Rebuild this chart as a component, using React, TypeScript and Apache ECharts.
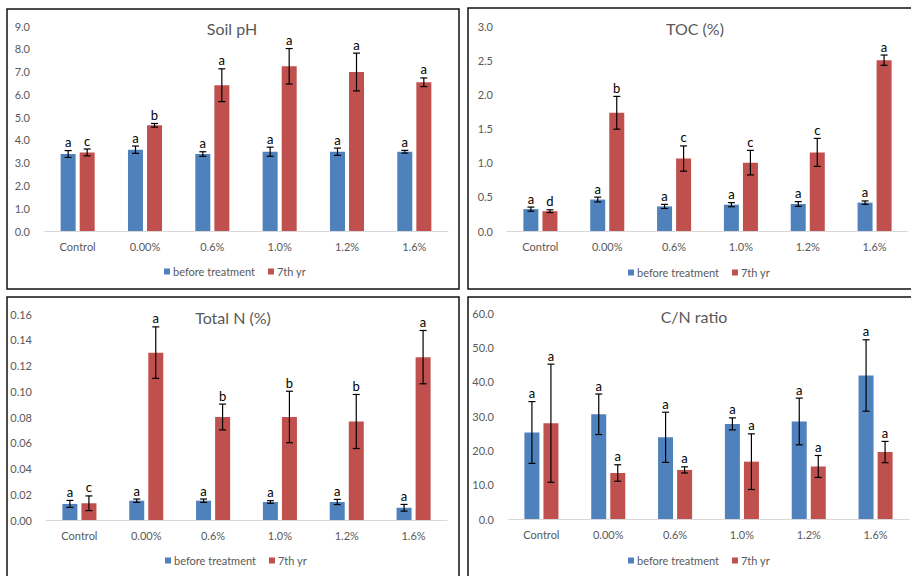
import React, { useEffect, useRef } from "react";
import * as echarts from "echarts";

const categories = ["Control", "0.00%", "0.6%", "1.0%", "1.2%", "1.6%"];
const seriesNames = ["before treatment", "7th yr"];

// Soil pH
const phBefore = [3.38, 3.57, 3.38, 3.48, 3.48, 3.48];
const phBeforeErr = [0.15, 0.16, 0.1, 0.2, 0.16, 0.06];
const phAfter = [3.45, 4.64, 6.4, 7.23, 6.98, 6.53];
const phAfterErr = [0.15, 0.08, 0.72, 0.78, 0.83, 0.19];
const phBeforeLetters = ["a", "a", "a", "a", "a", "a"];
const phAfterLetters = ["c", "b", "a", "a", "a", "a"];

// TOC (%)
const tocBefore = [0.32, 0.46, 0.36, 0.385, 0.395, 0.415];
const tocBeforeErr = [0.03, 0.035, 0.03, 0.03, 0.035, 0.025];
const tocAfter = [0.29, 1.73, 1.06, 1.0, 1.15, 2.5];
const tocAfterErr = [0.02, 0.24, 0.185, 0.18, 0.205, 0.075];
const tocBeforeLetters = ["a", "a", "a", "a", "a", "a"];
const tocAfterLetters = ["d", "b", "c", "c", "c", "a"];

// Total N (%)
const nBefore = [0.0125, 0.015, 0.015, 0.014, 0.014, 0.0095];
const nBeforeErr = [0.0027, 0.0013, 0.0013, 0.001, 0.002, 0.0026];
const nAfter = [0.013, 0.13, 0.08, 0.08, 0.0765, 0.1265];
const nAfterErr = [0.0057, 0.02, 0.01, 0.02, 0.021, 0.0207];
const nBeforeLetters = ["a", "a", "a", "a", "a", "a"];
const nAfterLetters = ["c", "a", "b", "b", "b", "a"];

// C/N ratio
const cnBefore = [25.2, 30.5, 23.8, 27.7, 28.4, 41.8];
const cnBeforeErr = [9.0, 5.9, 7.3, 1.75, 6.8, 10.4];
const cnAfter = [27.9, 13.4, 14.3, 16.7, 15.3, 19.5];
const cnAfterErr = [17.2, 2.4, 0.9, 8.1, 3.2, 3.1];
const cnBeforeLetters = ["a", "a", "a", "a", "a", "a"];
const cnAfterLetters = ["a", "a", "a", "a", "a", "a"];

const BLUE = "#4F81BD";
const RED = "#C0504D";
const FONT = "Lato";
const GRAY = "#595959";

type Panel = {
  title: string;
  titleX: number;
  titleY: number;
  grid: { left: number; top: number; width: number; height: number };
  max: number;
  interval: number;
  decimals: number;
  before: number[];
  beforeErr: number[];
  after: number[];
  afterErr: number[];
  beforeLetters: string[];
  afterLetters: string[];
  legendLeft: number;
  legendTop: number;
  box: { x: number; y: number; w: number; h: number };
};

const panels: Panel[] = [
  {
    title: "Soil pH", titleX: 232, titleY: 28,
    grid: { left: 44, top: 26, width: 404, height: 205 },
    max: 9, interval: 1, decimals: 1,
    before: phBefore, beforeErr: phBeforeErr, after: phAfter, afterErr: phAfterErr,
    beforeLetters: phBeforeLetters, afterLetters: phAfterLetters,
    legendLeft: 164, legendTop: 266,
    box: { x: 7, y: 9, w: 452, h: 280 },
  },
  {
    title: "TOC (%)", titleX: 695, titleY: 28,
    grid: { left: 507, top: 26, width: 401, height: 205 },
    max: 3, interval: 0.5, decimals: 1,
    before: tocBefore, beforeErr: tocBeforeErr, after: tocAfter, afterErr: tocAfterErr,
    beforeLetters: tocBeforeLetters, afterLetters: tocAfterLetters,
    legendLeft: 628, legendTop: 267,
    box: { x: 468, y: 8, w: 460, h: 281 },
  },
  {
    title: "Total N (%)", titleX: 233, titleY: 317,
    grid: { left: 46, top: 314, width: 401, height: 206 },
    max: 0.16, interval: 0.02, decimals: 2,
    before: nBefore, beforeErr: nBeforeErr, after: nAfter, afterErr: nAfterErr,
    beforeLetters: nBeforeLetters, afterLetters: nAfterLetters,
    legendLeft: 165, legendTop: 555,
    box: { x: 7, y: 297, w: 452, h: 300 },
  },
  {
    title: "C/N ratio", titleX: 694, titleY: 316,
    grid: { left: 508, top: 313, width: 401, height: 206 },
    max: 60, interval: 10, decimals: 1,
    before: cnBefore, beforeErr: cnBeforeErr, after: cnAfter, afterErr: cnAfterErr,
    beforeLetters: cnBeforeLetters, afterLetters: cnAfterLetters,
    legendLeft: 628, legendTop: 555,
    box: { x: 468, y: 297, w: 460, h: 300 },
  },
];

const BAR_W = 15;
const OFFSET = 9.5;

function errSeries(pi: number, values: number[], errs: number[], letters: string[], dir: number) {
  return {
    type: "custom",
    xAxisIndex: pi,
    yAxisIndex: pi,
    silent: true,
    z: 5,
    data: values.map((v, i) => [i, v, errs[i]]),
    encode: { x: 0, y: 1 },
    renderItem: (params: any, api: any) => {
      const idx = api.value(0);
      const v = api.value(1);
      const e = api.value(2);
      const c = api.coord([idx, v]);
      const x = c[0] + dir * OFFSET;
      const yTop = api.coord([idx, v + e])[1];
      const yBot = api.coord([idx, v - e])[1];
      const st = { stroke: "#000", lineWidth: 1.2 };
      return {
        type: "group",
        children: [
          { type: "line", shape: { x1: x, y1: yTop, x2: x, y2: yBot }, style: st },
          { type: "line", shape: { x1: x - 3.5, y1: yTop, x2: x + 3.5, y2: yTop }, style: st },
          { type: "line", shape: { x1: x - 3.5, y1: yBot, x2: x + 3.5, y2: yBot }, style: st },
          {
            type: "text",
            x: x,
            y: yTop - 2,
            style: {
              text: letters[params.dataIndex],
              fill: "#000",
              fontSize: 13,
              fontFamily: FONT,
              align: "center",
              verticalAlign: "bottom",
            },
          },
        ],
      };
    },
  };
}

export default function App() {
  const ref = useRef<HTMLDivElement>(null);
  useEffect(() => {
    if (!ref.current) return;
    const chart = echarts.init(ref.current, undefined, { renderer: "svg" });
    const series: any[] = [];
    panels.forEach((p, pi) => {
      series.push({
        type: "bar", name: seriesNames[0], xAxisIndex: pi, yAxisIndex: pi,
        data: p.before, barWidth: BAR_W, barGap: "27%",
        itemStyle: { color: BLUE },
      });
      series.push({
        type: "bar", name: seriesNames[1], xAxisIndex: pi, yAxisIndex: pi,
        data: p.after, barWidth: BAR_W, barGap: "27%",
        itemStyle: { color: RED },
      });
      series.push(errSeries(pi, p.before, p.beforeErr, p.beforeLetters, -1));
      series.push(errSeries(pi, p.after, p.afterErr, p.afterLetters, 1));
    });
    chart.setOption({
      animation: false,
      textStyle: { fontFamily: FONT },
      title: panels.map((p) => ({
        text: p.title,
        left: p.titleX,
        top: p.titleY,
        textAlign: "center",
        textVerticalAlign: "middle",
        padding: 0,
        textStyle: { fontSize: 16, fontWeight: "normal", color: GRAY, fontFamily: FONT },
      })),
      legend: panels.map((p) => ({
        data: seriesNames,
        left: p.legendLeft,
        top: p.legendTop,
        padding: 0,
        itemWidth: 6,
        itemHeight: 6,
        itemGap: 13,
        icon: "rect",
        selectedMode: false,
        textStyle: { fontSize: 11, color: GRAY, fontFamily: FONT, padding: [0, 0, 0, -2] },
      })),
      grid: panels.map((p) => ({ ...p.grid, containLabel: false })),
      xAxis: panels.map((p, pi) => ({
        type: "category",
        gridIndex: pi,
        data: categories,
        axisLine: { lineStyle: { color: "#D9D9D9", width: 1 } },
        axisTick: { show: false },
        axisLabel: { color: GRAY, fontSize: 11, fontFamily: FONT, margin: 10 },
      })),
      yAxis: panels.map((p, pi) => ({
        type: "value",
        gridIndex: pi,
        min: 0,
        max: p.max,
        interval: p.interval,
        splitLine: { show: false },
        axisLine: { show: false },
        axisTick: { show: false },
        axisLabel: {
          color: GRAY,
          fontSize: 11,
          fontFamily: FONT,
          margin: 14,
          formatter: (v: number) => v.toFixed(p.decimals),
        },
      })),
      graphic: panels.map((p) => ({
        type: "rect",
        shape: { x: p.box.x, y: p.box.y, width: p.box.w, height: p.box.h },
        style: { fill: "none", stroke: "#111", lineWidth: 1.5 },
        silent: true,
        z: 100,
      })),
      series,
    });
    return () => chart.dispose();
  }, []);
  return (
    <div
      ref={ref}
      style={{ position: "fixed", left: 0, top: 0, width: 911, height: 576, background: "#fff" }}
    />
  );
}
